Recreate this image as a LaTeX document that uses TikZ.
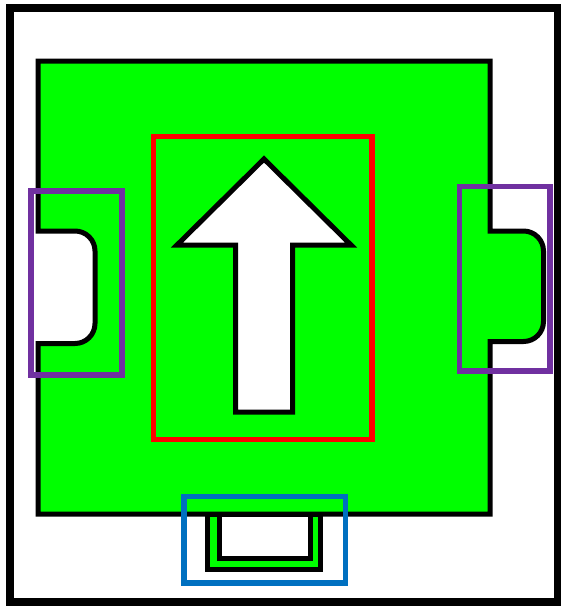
\documentclass[tikz,border=0pt]{standalone}
\usepackage{tikz}
\usetikzlibrary{calc}
\definecolor{tilegreen}{HTML}{00FF00}
\definecolor{markred}{HTML}{FF0000}
\definecolor{markpurple}{HTML}{7030A0}
\definecolor{markblue}{HTML}{0070C0}
\tikzset{
  outline/.style={draw=black,line width=5pt,line join=miter},
  markbox/.style={draw=#1,line width=5.5pt}
}

\begin{document}
\begin{tikzpicture}[x=1pt,y=-1pt]
  \useasboundingbox (0,0) rectangle (561,606);
  % outer frame
  \draw[line width=8pt] (10,8) rectangle (558,602);
  % bottom tab
  \draw[outline,fill=tilegreen] (207.5,514) rectangle (320.5,569.5);
  \draw[outline,fill=white] (219,514) rectangle (310,558);
  % tile body with notch (left) and tab (right)
  \draw[outline,fill=tilegreen] (38,61) -- (490,61) -- (490,231)
    [rounded corners=20pt] -- (543.5,231) -- (543.5,341.5)
    [sharp corners] -- (490,341.5) -- (490,514) -- (38,514) -- (38,343.5)
    [rounded corners=20pt] -- (95,343.5) -- (95,231)
    [sharp corners] -- (38,231) -- cycle;
  % arrow
  \draw[outline,fill=white] (264,159) -- (351,245) -- (292.5,245)
    -- (292.5,412) -- (235.5,412) -- (235.5,245) -- (177,245) -- cycle;
  % markers
  \draw[markbox=markred] (153.5,136.5) rectangle (372,439.5);
  \draw[markbox=markpurple] (31,191) rectangle (122,375);
  \draw[markbox=markpurple] (459.5,186.5) rectangle (550,371);
  \draw[markbox=markblue] (184,496.5) rectangle (345.5,583);
\end{tikzpicture}
\end{document}
